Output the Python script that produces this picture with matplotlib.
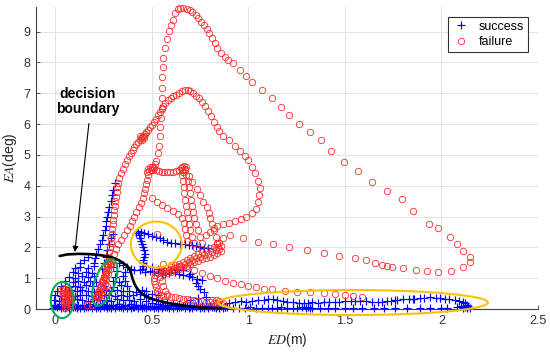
import matplotlib
matplotlib.use("Agg")
import matplotlib.pyplot as plt
import matplotlib.transforms as mtransforms
from matplotlib.patches import Ellipse
from matplotlib.lines import Line2D
import numpy as np

plt.rcParams['font.family'] = ['Liberation Sans', 'DejaVu Sans']
plt.rcParams['mathtext.fontset'] = 'stix'

# ---------------- data (ED [m], EA [deg]) ----------------
x_ticks = [0, 0.5, 1, 1.5, 2, 2.5]
x_tick_labels = ['0', '0.5', '1', '1.5', '2', '2.5']
y_ticks = [0, 1, 2, 3, 4, 5, 6, 7, 8, 9]

# failure trajectories
fail_cluster1 = [(0.03,0.62),(0.04,0.68),(0.05,0.64),(0.06,0.58),(0.04,0.52),(0.055,0.5),(0.045,0.45),
                 (0.06,0.44),(0.05,0.38),(0.04,0.35),(0.055,0.3),(0.065,0.32),(0.05,0.25),(0.045,0.2),
                 (0.06,0.22),(0.07,0.42),(0.055,0.15),(0.05,0.1),(0.065,0.55),(0.075,0.48),(0.08,0.36),
                 (0.07,0.28),(0.08,0.2),(0.06,0.05),(0.085,0.1),(0.05,0.02)]
fail_pair = [(0.165,0.12),(0.19,0.12)]
fail_green2 = [(0.205,0.3),(0.21,0.38),(0.215,0.46),(0.22,0.55),(0.225,0.62),(0.23,0.7),(0.235,0.78),
               (0.24,0.86),(0.245,0.95),(0.25,1.04),(0.255,1.12),(0.26,1.2),(0.265,1.28),(0.27,1.36),
               (0.275,1.44),(0.28,1.52),(0.225,0.42),(0.235,0.52),(0.245,0.66),(0.255,0.8),(0.265,0.98),
               (0.275,1.15),(0.285,1.3),(0.29,1.45),(0.24,0.45),(0.26,0.6),(0.27,0.75),(0.22,0.35)]
fail_loop7 = [(0.23,0.7),(0.24,0.9),(0.25,1.05),(0.26,1.25),(0.27,1.45),(0.275,1.55),(0.278,1.7),(0.28,1.85),
              (0.283,2.0),(0.286,2.15),(0.29,2.3),(0.292,2.45),(0.295,2.6),(0.297,2.75),(0.30,2.9),(0.302,3.05),
              (0.305,3.2),(0.308,3.35),(0.31,3.5),(0.313,3.65),(0.317,3.8),(0.32,3.95),(0.325,4.1),(0.33,4.25),
              (0.34,4.4),(0.35,4.55),(0.36,4.7),(0.37,4.84),(0.38,4.95),(0.39,5.06),(0.40,5.16),(0.41,5.26),
              (0.42,5.36),(0.43,5.42),(0.44,5.5),(0.445,5.55),(0.45,5.58),(0.455,5.6),(0.44,5.6),(0.45,5.5),
              (0.46,5.55),(0.46,5.62),(0.465,5.68),(0.47,5.75),(0.48,5.82),(0.49,5.9),(0.50,5.98),(0.51,6.08),
              (0.52,6.18),(0.53,6.3),(0.54,6.4),(0.55,6.5),(0.56,6.58),(0.57,6.68),(0.585,6.79),(0.60,6.86),
              (0.61,6.92),(0.625,6.96),(0.64,7.02),(0.655,7.06),(0.67,7.1),(0.685,7.12),(0.70,7.08),(0.715,7.0),
              (0.73,6.92),(0.745,6.84),(0.76,6.72),(0.775,6.58),(0.79,6.42),(0.805,6.25),(0.82,6.08),(0.835,5.9),
              (0.85,5.76),(0.87,5.62),(0.90,5.49),(0.93,5.3),(0.956,5.14),(0.98,4.98),(1.0,4.85),(1.02,4.62),
              (1.035,4.4),(1.05,4.15),(1.06,3.92),(1.055,3.7),(1.05,3.46),(1.04,3.24),(1.02,3.1),(0.99,3.0),
              (0.96,2.92),(0.93,2.85),(0.90,2.8),(0.87,2.76),(0.84,2.7),(0.82,2.62),(0.80,2.5),(0.78,2.4)]
fail_diag = [(0.215,0.4),(0.225,0.55),(0.235,0.7),(0.245,0.85),(0.255,1.0),(0.265,1.15),(0.275,1.3),
             (0.285,1.45),(0.295,1.6),(0.305,1.78),(0.315,1.95),(0.325,2.1),(0.34,2.25),(0.355,2.4),
             (0.37,2.55),(0.385,2.7),(0.395,2.85),(0.41,3.0),(0.42,3.15),(0.435,3.3),(0.445,3.45),
             (0.455,3.6),(0.46,3.75),(0.465,3.9),(0.47,4.05),(0.475,4.2),(0.478,4.35),(0.485,4.48)]
fail_loop10 = [(0.505,4.6),(0.515,4.7),(0.52,4.8),(0.53,5.05),(0.535,5.3),(0.54,5.6),(0.54,5.9),(0.545,6.2),
               (0.555,6.53),(0.55,6.85),(0.555,7.18),(0.555,7.53),(0.558,7.86),(0.558,8.15),(0.567,8.47),
               (0.576,8.77),(0.59,9.03),(0.60,9.22),(0.61,9.38),(0.62,9.61),(0.635,9.72),(0.645,9.78),
               (0.66,9.77),(0.68,9.74),(0.70,9.7),(0.71,9.64),(0.73,9.55),(0.74,9.45),(0.755,9.32),(0.77,9.22),
               (0.785,9.09),(0.795,8.96),(0.81,8.8),(0.826,8.64),(0.84,8.47),(0.86,8.31),(0.878,8.18),
               (0.894,8.08),(0.92,7.99),(0.956,7.76),(0.99,7.56),(1.02,7.37),(1.07,7.1),(1.12,6.85),(1.17,6.56),
               (1.21,6.3),(1.26,6.0),(1.32,5.75),(1.375,5.48),(1.43,5.13),(1.495,4.78),(1.567,4.48),(1.64,4.12),
               (1.72,3.83),(1.795,3.57),(1.85,3.18),(1.935,2.76),(1.98,2.63),(2.045,2.34),(2.08,2.11),
               (2.11,1.88),(2.15,1.69),(2.15,1.53),(2.11,1.36),(2.05,1.23),(1.98,1.2),(1.925,1.23),(1.87,1.27),
               (1.80,1.33),(1.745,1.36),(1.72,1.39),(1.69,1.42),(1.655,1.49),(1.61,1.59),(1.55,1.66),
               (1.47,1.72),(1.39,1.82),(1.305,1.92),(1.21,2.01),(1.13,2.11),(1.05,2.18),(0.97,2.3),
               (0.905,2.4),(0.87,2.3),(0.85,2.15),(0.845,2.0)]
fail_bar = [(0.475,4.45),(0.48,4.55),(0.49,4.6),(0.50,4.62),(0.51,4.58),(0.50,4.5),(0.52,4.5),(0.535,4.47),
            (0.55,4.46),(0.565,4.45),(0.58,4.45),(0.595,4.45),(0.61,4.46),(0.625,4.47),(0.64,4.5),(0.65,4.56),
            (0.655,4.62),(0.665,4.64),(0.675,4.6),(0.67,4.5),(0.66,4.45),(0.655,4.52),(0.67,4.55),(0.495,4.5)]
fail_cols = [(0.655,4.35),(0.66,4.15),(0.665,3.95),(0.665,3.75),(0.67,3.55),(0.675,3.35),(0.68,3.15),
             (0.685,2.95),(0.69,2.75),(0.70,2.55),(0.71,2.35),(0.72,2.15),(0.73,1.98),
             (0.675,4.35),(0.685,4.15),(0.695,3.95),(0.70,3.75),(0.705,3.55),(0.71,3.35),(0.715,3.15),
             (0.72,2.95),(0.73,2.75),(0.74,2.55),(0.75,2.35),(0.76,2.15),
             (0.69,4.3),(0.71,4.12),(0.735,3.9),(0.75,3.7),(0.765,3.48),(0.785,3.3),(0.795,3.12),(0.80,2.95),
             (0.81,2.75),(0.82,2.55),(0.83,2.35),(0.835,2.15),
             (0.50,3.6),(0.525,3.47),(0.55,3.38),(0.58,3.28),(0.61,3.18),(0.635,3.08),(0.655,2.95),
             (0.665,2.8),(0.67,2.6),(0.675,2.4),(0.68,2.2)]
fail_arm = [(0.86,2.05),(0.85,1.95),(0.83,1.9),(0.81,1.85),(0.79,1.8),(0.77,1.75),(0.75,1.7),(0.73,1.64),
            (0.71,1.58),(0.69,1.52),(0.67,1.46),(0.65,1.4),(0.63,1.35),(0.61,1.3),(0.59,1.26),(0.57,1.22),
            (0.55,1.19),(0.53,1.17),
            (0.84,2.1),(0.82,2.02),(0.80,1.97),(0.78,1.92),(0.76,1.86),(0.74,1.8),(0.72,1.73),(0.70,1.67),
            (0.68,1.6),(0.66,1.53),(0.64,1.47),(0.62,1.42),(0.60,1.37),(0.58,1.32),(0.56,1.28),(0.54,1.24),
            (0.52,1.2),
            (0.86,1.88),(0.84,1.82),(0.82,1.76),(0.80,1.7),(0.78,1.66),(0.76,1.62),(0.74,1.57),(0.72,1.52),
            (0.70,1.46),(0.68,1.4),(0.66,1.35),(0.64,1.3),(0.62,1.25),(0.60,1.2),(0.58,1.16),(0.56,1.13)]
fail_down = [(0.515,1.1),(0.51,1.0),(0.51,0.9),(0.515,0.8),(0.52,0.7),(0.525,0.6),(0.53,0.5),(0.545,0.44),
             (0.56,0.42),(0.58,0.41),(0.60,0.4),(0.62,0.38),(0.64,0.36),(0.66,0.34),(0.68,0.32),(0.70,0.3),
             (0.72,0.28),(0.74,0.26),(0.76,0.25),(0.78,0.23),(0.80,0.22),(0.82,0.2),(0.84,0.18),(0.86,0.16),
             (0.87,0.2),(0.85,0.25),(0.83,0.28),(0.81,0.3),(0.54,1.05),(0.55,0.9),(0.56,0.75),(0.57,0.6),
             (0.58,0.5)]
fail_lowrow = [(0.56,1.45),(0.6,1.42),(0.64,1.38),(0.68,1.33),(0.72,1.25),(0.76,1.17),(0.80,1.08),(0.84,0.99),
               (0.88,0.92),(0.92,0.85),(0.96,0.8),(1.0,0.75),(1.04,0.7),(1.08,0.66),(1.12,0.64),(1.19,0.6),
               (1.25,0.56),(1.32,0.54),(1.39,0.52),(1.45,0.49),(1.50,0.45),(1.54,0.42),(1.59,0.39)]
fail_single = [(0.525,2.44)]

# success trajectories
succ_row_lo = [(-0.01,0.03),(0.01,0.05),(0.03,0.02),(0.05,0.04),(0.07,0.03),(0.09,0.05),(0.11,0.02),
               (0.13,0.04),(0.15,0.03),(0.17,0.05),(0.19,0.02),(0.21,0.04),(0.23,0.03),(0.25,0.05),
               (0.27,0.02),(0.29,0.04),(0.31,0.03),(0.33,0.05),(0.35,0.02),(0.37,0.04),(0.39,0.03),
               (0.41,0.05),(0.43,0.02),(0.45,0.04),(0.47,0.03),(0.49,0.05),(0.51,0.02),(0.53,0.04),
               (0.55,0.03),(0.57,0.05),(0.59,0.02),(0.61,0.04),(0.63,0.03),(0.65,0.05),(0.67,0.02),
               (0.69,0.04),(0.71,0.03),(0.73,0.05),(0.75,0.02),(0.77,0.04),(0.79,0.03),(0.81,0.05),
               (0.83,0.02),(0.85,0.04),(0.87,0.03),(0.89,0.05),(0.92,0.03),(0.95,0.04),(0.98,0.03),
               (1.01,0.05),(1.04,0.03),(1.07,0.04),(1.10,0.03),(1.12,0.04),(1.15,0.03),(1.17,0.05),
               (1.20,0.03),(1.23,0.04),(1.25,0.03),(1.28,0.05),(1.30,0.03),(1.31,0.05),(1.32,0.03),
               (1.33,0.04),(1.37,0.03),(1.41,0.04),(1.45,0.03),(1.50,0.04),(1.54,0.03),(1.59,0.04),
               (1.65,0.03),(1.70,0.04),(1.76,0.03),(1.82,0.04),(1.89,0.03),(1.94,0.04),(2.0,0.03),
               (2.03,0.04),(2.08,0.05),(2.11,0.04),(2.13,0.02),(2.15,0.03)]
succ_row_mid = [(0.0,0.09),(0.02,0.1),(0.04,0.08),(0.06,0.1),(0.08,0.09),(0.1,0.08),(0.12,0.1),(0.14,0.09),
                (0.16,0.08),(0.18,0.1),(0.2,0.09),(0.22,0.08),(0.24,0.1),(0.26,0.09),(0.28,0.08),(0.3,0.1),
                (0.32,0.09),(0.34,0.08),(0.36,0.1),(0.38,0.09),(0.4,0.08),(0.42,0.1),(0.44,0.09),(0.46,0.08),
                (0.48,0.1),(0.5,0.09),(0.52,0.08),(0.54,0.1),(0.56,0.09),(0.58,0.08),(0.6,0.1),(0.62,0.09),
                (0.64,0.08),(0.66,0.1),(0.68,0.09),(0.7,0.08),(0.72,0.1),(0.74,0.09),(0.76,0.08),(0.78,0.1),
                (0.8,0.09),(0.82,0.08),(0.84,0.1),(0.86,0.09),(0.88,0.08)]
succ_row_hi = [(0.90,0.2),(0.93,0.22),(0.96,0.25),(0.99,0.23),(1.02,0.26),(1.05,0.28),(1.08,0.3),(1.10,0.32),
               (1.13,0.32),(1.15,0.3),(1.18,0.27),(1.20,0.24),(1.23,0.22),(1.26,0.2),(1.29,0.19),(1.31,0.21),
               (1.33,0.22),(1.36,0.2),(1.39,0.22),(1.42,0.23),(1.45,0.23),(1.47,0.24),(1.50,0.25),(1.53,0.26),
               (1.55,0.25),(1.58,0.26),(1.61,0.26),(1.64,0.24),(1.67,0.23),(1.69,0.23),(1.72,0.25),
               (1.74,0.27),(1.76,0.29),(1.77,0.3),(1.80,0.31),(1.83,0.32),(1.85,0.32),(1.86,0.33),(1.89,0.35),
               (1.91,0.37),(1.94,0.39),(1.97,0.37),(1.99,0.35),(2.02,0.33),(2.04,0.31),(2.07,0.28),
               (2.09,0.25),(2.11,0.23),(2.12,0.18),(2.13,0.14),(2.14,0.1),(2.12,0.08),(2.1,0.1)]
succ_blob = [(0.00,0.12),(0.03,0.16),(0.06,0.13),(0.09,0.17),(0.12,0.14),(0.15,0.12),(0.18,0.16),(0.21,0.13),
             (0.24,0.17),(0.27,0.14),(0.30,0.12),(0.33,0.16),(0.36,0.13),(0.39,0.17),(0.42,0.14),(0.45,0.12),
             (-0.005,0.3),(0.02,0.27),(0.05,0.31),(0.08,0.28),(0.11,0.32),(0.14,0.29),(0.17,0.27),(0.20,0.31),
             (0.23,0.28),(0.26,0.3),(0.29,0.27),(0.32,0.31),(0.35,0.28),(0.38,0.3),(0.41,0.27),(0.44,0.31),
             (0.0,0.45),(0.03,0.42),(0.07,0.46),(0.10,0.43),(0.13,0.47),(0.16,0.44),(0.19,0.42),(0.22,0.46),
             (0.25,0.44),(0.28,0.47),(0.31,0.43),(0.34,0.45),(0.37,0.42),(0.40,0.46),
             (0.01,0.6),(0.05,0.57),(0.08,0.61),(0.11,0.58),(0.14,0.62),(0.17,0.59),(0.20,0.56),(0.23,0.6),
             (0.26,0.62),(0.29,0.58),(0.32,0.61),(0.35,0.57),(0.38,0.6),
             (0.03,0.75),(0.07,0.72),(0.10,0.76),(0.13,0.73),(0.16,0.77),(0.19,0.74),(0.25,0.76),(0.30,0.73),
             (0.34,0.77),(0.37,0.74),
             (0.05,0.9),(0.09,0.87),(0.12,0.91),(0.15,0.88),(0.18,0.92),(0.21,0.89),(0.30,0.9),(0.33,0.87),
             (0.36,0.91),
             (0.07,1.05),(0.10,1.02),(0.14,1.06),(0.17,1.03),(0.20,1.07),(0.31,1.04),(0.35,1.06),
             (0.09,1.2),(0.12,1.17),(0.16,1.21),(0.19,1.18),(0.32,1.22),(0.36,1.19),
             (0.10,1.33),(0.13,1.36),(0.17,1.32),(0.20,1.38),(0.30,1.35),(0.24,1.3)]
succ_up = [(0.2,1.5),(0.205,1.65),(0.21,1.8),(0.22,1.95),(0.23,2.1),(0.24,2.25),(0.245,2.4),(0.255,2.55),
           (0.26,2.7),(0.265,2.85),(0.27,3.0),(0.275,3.15),(0.28,3.3),(0.29,3.5),(0.295,3.7),(0.30,3.85),
           (0.31,4.1),(0.25,1.5),(0.26,1.7),(0.27,1.9),(0.28,2.1),(0.29,2.3),(0.30,2.45),
           (0.13,1.5),(0.15,1.6),(0.17,1.7)]
succ_mid = [(0.33,1.5),(0.35,1.42),(0.37,1.35),(0.39,1.3),(0.41,1.25),(0.44,1.27),(0.465,1.2),(0.49,1.22),
            (0.51,1.2),(0.53,1.17),(0.55,1.15),(0.57,1.14),(0.59,1.16),(0.62,1.2),(0.64,1.15),(0.66,1.1),
            (0.69,1.07),(0.71,1.04),(0.735,0.98),(0.76,0.94),
            (0.47,1.38),(0.5,1.35),(0.53,1.31),(0.56,1.28),(0.6,1.25),(0.63,1.3),(0.66,1.25),(0.7,1.15),
            (0.73,0.85),(0.74,0.75),(0.75,0.65),(0.77,0.55)]
succ_ell = [(0.42,2.47),(0.43,2.53),(0.445,2.5),(0.46,2.47),(0.48,2.42),(0.50,2.38),(0.52,2.34),(0.54,2.29),
            (0.56,2.24),(0.58,2.19),(0.60,2.15),(0.62,2.13),(0.645,2.11),(0.67,2.1),(0.69,2.08),(0.71,2.07),
            (0.73,2.04),(0.75,2.01),(0.77,1.99),(0.79,1.98),
            (0.435,2.4),(0.44,2.3),(0.445,2.2),(0.45,2.1),(0.455,2.0),(0.46,1.9),(0.465,1.8),(0.46,1.7),
            (0.455,1.6),(0.455,1.5),(0.455,1.4),(0.45,1.3)]
succ_line = [(0.42,0.55),(0.44,0.5),(0.46,0.45),(0.48,0.38),(0.5,0.33),(0.52,0.3),(0.55,0.26),(0.58,0.22),
             (0.61,0.2),(0.64,0.17),(0.67,0.14),(0.7,0.12),(0.73,0.1),(0.76,0.09),(0.79,0.08),(0.82,0.07),
             (0.85,0.06),(0.88,0.06),(0.45,0.62),(0.47,0.58),(0.5,0.5),(0.53,0.45),(0.47,0.25),(0.5,0.2),
             (0.53,0.17),(0.56,0.14),(0.6,0.12),(0.63,0.1),(0.66,0.09),(0.7,0.3),(0.74,0.35),(0.78,0.4)]

# decision boundary
boundary_x = [0.023,0.06,0.12,0.18,0.23,0.27,0.30,0.33,0.355,0.375,0.388,0.395,0.40,0.41,0.42,0.435,
              0.455,0.48,0.52,0.57,0.63,0.70,0.78,0.86]
boundary_y = [1.72,1.77,1.79,1.78,1.75,1.71,1.66,1.58,1.48,1.38,1.25,1.1,0.98,0.82,0.7,0.58,0.47,0.38,
              0.29,0.21,0.14,0.08,0.04,0.02]

success_sets = [succ_row_lo, succ_row_mid, succ_row_hi, succ_blob, succ_up, succ_mid, succ_ell, succ_line]
failure_sets = [fail_cluster1, fail_pair, fail_green2, fail_loop7, fail_diag, fail_loop10, fail_bar,
                fail_cols, fail_arm, fail_down, fail_lowrow, fail_single]

RED = '#ff2a2a'
BLUE = '#0000ff'

# ---------------- figure ----------------
fig = plt.figure(figsize=(5.5, 3.52), dpi=100)
ax = fig.add_axes([36/550, 1-309/352, 502/550, 302/352])

for s in success_sets:
    a = np.array(s)
    ax.plot(a[:, 0], a[:, 1], linestyle='none', marker='+', color=BLUE,
            markersize=5.5, markeredgewidth=0.85, clip_on=False, zorder=3)
for s in failure_sets:
    a = np.array(s)
    ax.plot(a[:, 0], a[:, 1], linestyle='none', marker='o', markerfacecolor='none',
            markeredgecolor=RED, markersize=4.6, markeredgewidth=0.6, clip_on=False, zorder=4)

ax.plot(boundary_x, boundary_y, color='black', lw=1.9, zorder=5, solid_capstyle='round')

def ellipse(cx, cy, w_px, h_px, ang, color):
    tr = fig.dpi_scale_trans + mtransforms.ScaledTranslation(cx, cy, ax.transData)
    e = Ellipse((0, 0), w_px/100, h_px/100, angle=ang, transform=tr, fill=False,
                edgecolor=color, lw=1.5, clip_on=False, zorder=6)
    fig.add_artist(e)

ax.set_xlim(-0.1, 2.5)
ax.set_ylim(0, 9.8)

ellipse(0.036, 0.29, 23, 36, 0, '#00b050')
ellipse(0.256, 0.86, 20, 49, -20, '#00b050')
ellipse(0.523, 2.09, 51, 46, 0, '#ffc000')
ellipse(1.541, 0.21, 270, 25, 0, '#ffc000')

ax.annotate('', xy=(0.101, 1.85), xytext=(0.174, 6.02),
            arrowprops=dict(arrowstyle='-|>', color='black', lw=0.8, mutation_scale=8,
                            shrinkA=0, shrinkB=0), zorder=7)
ax.text(0.168, 6.72, 'decision\nboundary', ha='center', va='center', fontsize=10,
        fontweight='bold', linespacing=1.1, color='black', zorder=7)

ax.set_xticks(x_ticks)
ax.set_xticklabels(x_tick_labels)
ax.set_yticks(y_ticks)
ax.grid(True, color='#e3e3e3', lw=0.7)
ax.set_axisbelow(True)
for sp in ['top', 'right']:
    ax.spines[sp].set_visible(False)
for sp in ['left', 'bottom']:
    ax.spines[sp].set_color('#404040')
    ax.spines[sp].set_linewidth(0.8)
ax.tick_params(direction='in', length=3, width=0.6, colors='#404040', labelsize=9,
               labelcolor='#333333', pad=4)

ax.set_xlabel(r'$\mathit{ED}$(m)', fontsize=10, color='#262626', labelpad=3)
ax.set_ylabel(r'$\mathit{EA}$(deg)', fontsize=10, color='#262626', labelpad=3)

h1 = Line2D([], [], linestyle='none', marker='+', color=BLUE, markersize=5.5, markeredgewidth=0.85)
h2 = Line2D([], [], linestyle='none', marker='o', markerfacecolor='none', markeredgecolor=RED,
            markersize=4.6, markeredgewidth=0.6)
leg = ax.legend([h1, h2], ['success', 'failure'], loc='upper right',
                bbox_to_anchor=((528-36)/502, (309-17)/302), borderaxespad=0, fontsize=9,
                fancybox=False, framealpha=1, edgecolor='#333333', handlelength=1.6,
                handletextpad=0.6, labelspacing=0.25, borderpad=0.3)
leg.get_frame().set_linewidth(0.8)
leg.set_zorder(10)

fig.savefig('out.png', dpi=100)
